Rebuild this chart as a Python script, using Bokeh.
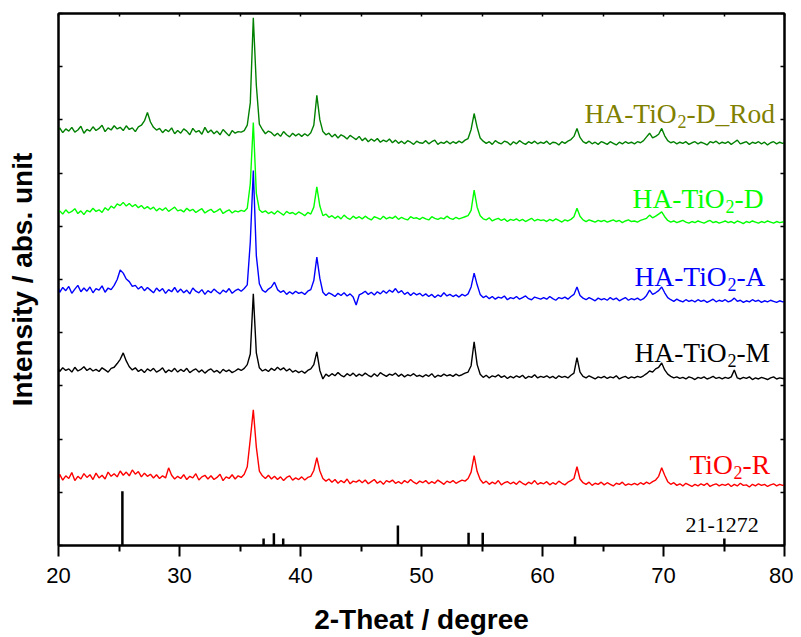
from bokeh.plotting import figure
from bokeh.models import LinearAxis, FixedTicker, Label
from bokeh.embed import file_html
from bokeh.resources import INLINE

# ---------------- data ----------------
# sampling grid of 2-theta (degrees)
XS = [20.0] + [round(20.1 + 0.25 * k, 2) for k in range(240)] + [80.0]

D_ROD = [78.2,
 78.5, 77.6, 78.3, 77.9, 78.6, 77.7, 78.1, 78.8, 77.5, 78.2,
 77.9, 78.7, 78.0, 78.4, 79.0, 77.8, 78.5, 78.1, 78.9, 78.3,
 78.6, 78.0, 78.9, 78.2, 78.5, 77.8, 78.7, 79.0, 79.8, 81.4,
 79.6, 78.6, 78.1, 78.4, 77.6, 78.2, 77.8, 78.5, 77.4, 78.0,
 77.5, 78.3, 77.9, 77.2, 78.4, 77.7, 78.0, 77.3, 78.6, 77.6,
 78.1, 77.4, 77.9, 77.2, 78.2, 77.6, 77.0, 78.0, 77.5, 77.8,
 77.7, 78.0, 79.0, 83.2, 99.2, 86.5, 79.2, 78.2, 77.4, 77.9,
 77.6, 77.0, 77.5, 76.9, 77.8, 77.2, 76.8, 77.5, 77.0, 77.4,
 76.9, 77.4, 77.0, 77.6, 79.0, 84.6, 80.0, 77.8, 77.2, 77.5,
 76.8, 77.3, 76.6, 77.2, 76.9, 76.4, 77.1, 76.7, 76.3, 76.9,
 76.1, 76.6, 75.9, 76.4, 76.0, 76.5, 75.8, 76.2, 75.9, 76.4,
 75.7, 76.2, 75.6, 76.0, 75.5, 76.1, 75.8, 75.4, 76.0, 75.7,
 75.6, 76.1, 75.5, 75.9, 76.2, 75.4, 75.8, 75.6, 76.0, 75.5,
 75.9, 75.6, 76.0, 75.7, 76.2, 76.5, 78.2, 81.2, 78.6, 76.6,
 76.0, 75.6, 75.9, 75.4, 76.1, 75.7, 75.5, 76.0, 75.8, 75.3,
 75.9, 75.5, 76.1, 75.7, 75.4, 75.9, 75.6, 76.0, 75.5, 75.8,
 75.6, 76.0, 75.4, 75.8, 75.7, 75.3, 75.9, 75.6, 76.0, 76.3,
 76.9, 78.4, 76.7, 75.9, 75.6, 76.0, 75.5, 75.8, 75.4, 75.9,
 75.7, 75.4, 75.9, 75.6, 75.3, 75.8, 75.5, 75.9, 75.6, 75.8,
 75.5, 75.9, 75.7, 76.1, 76.8, 77.5, 76.6, 76.9, 77.3, 78.4,
 77.0, 76.1, 75.7, 75.9, 75.5, 75.8, 75.6, 75.9, 75.4, 75.7,
 75.9, 75.5, 75.8, 75.6, 75.3, 75.9, 75.7, 76.0, 75.5, 75.8,
 75.6, 75.9, 75.4, 75.8, 76.2, 75.5, 75.7, 75.9, 75.4, 75.8,
 75.6, 75.9, 75.5, 75.8, 75.3, 75.7, 75.9, 75.5, 75.8, 75.6,
 75.7]

D_LIGHT = [62.6,
 62.9, 62.3, 63.1, 62.5, 62.8, 63.3, 62.4, 62.9, 62.2, 63.0,
 62.7, 63.4, 62.8, 63.1, 62.6, 63.5, 63.0, 63.8, 63.4, 64.2,
 63.9, 64.5, 63.8, 64.3, 63.7, 64.1, 63.5, 63.9, 63.3, 63.7,
 63.2, 63.6, 62.9, 63.4, 63.0, 63.5, 62.8, 63.2, 63.6, 62.9,
 63.1, 62.7, 63.4, 62.9, 63.2, 62.6, 63.0, 63.3, 62.5, 62.9,
 63.2, 62.6, 62.9, 63.3, 62.4, 62.8, 63.1, 62.5, 62.9, 62.7,
 63.0, 62.8, 63.4, 68.0, 79.5, 66.2, 63.1, 62.6, 62.9, 62.4,
 62.7, 62.3, 62.9, 62.5, 62.1, 62.8, 62.4, 62.6, 62.2, 62.7,
 62.4, 62.0, 62.6, 62.3, 63.6, 67.4, 63.8, 62.0, 62.3, 61.7,
 62.0, 61.5, 61.9, 61.4, 62.1, 61.6, 61.3, 61.9, 61.5, 61.8,
 61.4, 61.9, 61.5, 61.2, 61.8, 61.6, 61.3, 61.9, 61.4, 61.7,
 61.5, 61.9, 61.3, 61.7, 61.4, 61.2, 61.8, 61.5, 61.6, 61.3,
 61.7, 61.4, 61.2, 61.8, 61.5, 61.3, 61.6, 61.4, 61.9, 61.5,
 61.3, 61.7, 61.4, 61.6, 61.8, 62.0, 63.0, 66.8, 63.6, 62.0,
 61.4, 61.2, 61.6, 61.0, 61.3, 61.5, 61.1, 61.4, 60.9, 61.3,
 61.1, 61.4, 61.0, 61.3, 60.9, 61.2, 61.5, 61.0, 61.3, 61.1,
 61.2, 60.9, 61.3, 61.0, 61.4, 61.1, 60.8, 61.2, 61.0, 61.3,
 61.8, 63.4, 61.9, 61.2, 60.9, 61.2, 61.0, 60.8, 61.1, 60.9,
 61.1, 60.8, 61.0, 61.2, 60.9, 61.1, 60.7, 61.0, 61.2, 60.9,
 61.0, 60.8, 61.1, 61.3, 61.5, 62.1, 61.6, 61.9, 62.3, 62.7,
 61.8, 61.1, 60.8, 61.0, 60.7, 60.9, 61.1, 60.8, 60.6, 60.9,
 60.7, 61.0, 60.8, 60.6, 60.9, 61.1, 60.7, 60.9, 60.6, 60.8,
 61.0, 60.7, 60.9, 60.6, 61.0, 60.8, 60.5, 60.9, 60.7, 61.0,
 60.8, 60.6, 60.9, 60.7, 61.0, 60.8, 60.6, 60.9, 60.7, 60.8,
 60.8]

A_BLUE = [48.3,
 47.6, 48.5, 47.9, 48.7, 47.4, 48.2, 48.9, 47.7, 48.4, 47.8,
 48.6, 47.5, 48.3, 48.0, 48.8, 47.6, 48.4, 48.1, 48.9, 50.0,
 51.8, 51.2, 50.1, 49.6, 48.7, 48.9, 48.2, 48.7, 47.9, 48.5,
 48.0, 47.5, 48.4, 47.8, 48.3, 47.4, 48.1, 47.7, 48.5, 47.6,
 48.2, 47.5, 48.0, 47.3, 48.4, 47.8, 47.5, 48.1, 47.2, 47.9,
 47.5, 48.2, 47.7, 47.3, 48.0, 47.6, 48.3, 47.4, 47.9, 48.2,
 47.8, 48.3, 49.0, 57.0, 70.5, 54.5, 49.2, 48.0, 47.6, 48.2,
 48.6, 49.5, 48.1, 47.6, 47.9, 47.2, 47.7, 47.3, 47.8, 47.4,
 47.6, 47.2, 47.8, 48.1, 49.8, 54.2, 50.2, 47.6, 47.0, 47.5,
 47.2, 46.8, 47.4, 47.0, 47.5, 46.9, 47.3, 46.7, 45.2, 47.1,
 47.4, 47.8, 47.2, 47.6, 47.1, 47.7, 47.3, 47.9, 47.4, 48.0,
 47.6, 48.3, 47.5, 47.9, 47.2, 47.6, 47.0, 47.5, 47.1, 47.4,
 46.9, 47.3, 46.8, 47.2, 46.6, 47.1, 46.8, 47.5, 46.9, 47.2,
 46.8, 47.1, 46.7, 47.2, 46.9, 47.3, 48.6, 51.2, 49.0, 47.2,
 46.6, 46.9, 46.4, 46.8, 46.3, 46.7, 46.5, 46.9, 46.2, 46.6,
 46.4, 46.8, 46.3, 46.6, 46.9, 46.4, 46.2, 46.7, 46.5, 46.3,
 46.6, 46.3, 46.8, 46.4, 46.1, 46.6, 46.4, 46.7, 46.3, 46.8,
 47.2, 48.6, 47.0, 46.5, 46.2, 46.6, 46.3, 46.0, 46.5, 46.2,
 46.4, 46.1, 46.6, 46.2, 46.5, 46.0, 46.3, 46.6, 46.1, 46.4,
 46.2, 46.5, 46.1, 46.4, 47.0, 48.0, 47.2, 47.5, 47.9, 48.6,
 47.5, 46.6, 46.2, 45.9, 46.3, 46.0, 45.8, 46.2, 45.9, 46.1,
 45.8, 46.2, 45.9, 46.1, 45.7, 46.0, 46.3, 45.8, 46.1, 45.9,
 46.2, 45.8, 46.0, 46.5, 45.9, 46.1, 45.7, 46.0, 45.8, 46.2,
 45.9, 46.1, 45.7, 46.0, 45.8, 46.1, 45.9, 45.7, 46.0, 45.8,
 45.9]

M_BLACK = [33.2,
 32.7, 33.4, 32.9, 33.2, 32.6, 33.5, 32.8, 33.1, 33.6, 32.9,
 33.3, 32.8, 33.1, 32.7, 33.4, 33.0, 32.6, 33.3, 33.5, 34.2,
 35.0, 36.2, 34.7, 33.6, 33.0, 33.4, 32.7, 33.1, 32.5, 33.2,
 32.8, 33.3, 32.6, 32.9, 33.4, 32.5, 33.0, 32.7, 33.3, 32.6,
 33.1, 32.7, 33.3, 32.5, 32.9, 33.2, 32.6, 33.0, 32.4, 32.9,
 33.2, 32.6, 32.9, 32.4, 33.1, 32.7, 33.0, 32.5, 32.8, 33.2,
 32.9, 33.3, 34.0, 36.0, 47.3, 36.2, 33.4, 32.8, 33.1, 32.7,
 33.3, 32.9, 33.5, 33.0, 33.4, 32.8, 33.2, 32.6, 32.9, 32.5,
 32.8, 32.4, 32.9, 33.2, 34.0, 36.4, 32.9, 31.3, 32.2, 31.8,
 32.3, 31.9, 32.5, 32.0, 31.7, 32.3, 31.9, 32.4, 31.8, 32.2,
 31.9, 32.4, 32.0, 31.7, 32.3, 31.8, 32.5, 32.1, 31.8, 32.2,
 32.0, 32.4, 31.8, 32.2, 31.7, 32.1, 31.9, 32.3, 31.8, 32.0,
 31.7, 32.1, 31.8, 32.3, 31.6, 32.0, 31.8, 32.2, 31.9, 32.1,
 31.8, 32.2, 31.9, 32.1, 32.4, 32.6, 33.8, 38.3, 34.0, 32.2,
 31.6, 32.0, 31.5, 31.9, 31.7, 32.1, 31.6, 31.9, 31.4, 31.8,
 31.5, 31.9, 31.6, 32.0, 31.4, 31.8, 31.6, 32.1, 31.5, 31.8,
 31.6, 31.9, 31.5, 31.8, 31.4, 31.9, 31.6, 31.8, 31.5, 32.0,
 32.4, 35.3, 32.6, 31.8, 31.5, 31.9, 31.6, 31.3, 31.7, 31.5,
 31.8, 31.4, 31.7, 31.5, 31.9, 31.3, 31.6, 31.8, 31.4, 31.7,
 31.5, 31.8, 31.6, 31.9, 32.3, 32.8, 32.6, 33.2, 33.5, 34.3,
 33.0, 32.2, 31.8, 31.5, 31.7, 31.4, 31.6, 31.3, 31.7, 31.5,
 31.2, 31.6, 31.4, 31.7, 31.3, 31.5, 31.8, 31.4, 31.6, 31.3,
 31.6, 31.4, 31.7, 33.0, 31.5, 31.3, 31.6, 31.4, 31.7, 31.2,
 31.5, 31.3, 31.6, 31.4, 31.2, 31.5, 31.7, 31.3, 31.5, 31.4,
 31.4]

R_RED = [12.6,
 13.4, 12.3, 13.1, 12.6, 13.7, 12.2, 13.0, 12.5, 13.5, 12.8,
 13.3, 12.4, 13.6, 12.7, 13.2, 12.5, 13.8, 13.0, 13.5, 12.9,
 14.0, 13.2, 13.8, 13.1, 14.2, 13.4, 13.9, 12.9, 13.6, 13.0,
 13.4, 12.7, 13.3, 12.6, 13.1, 12.7, 14.6, 13.2, 12.5, 13.0,
 12.6, 13.3, 12.4, 13.0, 12.7, 13.5, 12.3, 12.9, 13.2, 12.5,
 13.1, 12.4, 12.8, 13.4, 12.2, 12.9, 12.6, 13.3, 12.5, 13.1,
 12.8, 13.4, 14.8, 20.0, 25.5, 18.5, 14.0, 13.1, 12.6, 13.2,
 12.5, 13.0, 12.4, 12.9, 12.2, 12.8, 13.1, 12.3, 12.7, 12.4,
 12.9, 12.3, 12.8, 13.0, 14.1, 16.5, 14.0, 12.6, 12.1, 12.5,
 11.9, 12.4, 11.7, 12.2, 11.8, 12.5, 11.6, 12.1, 11.9, 12.3,
 11.8, 12.3, 11.6, 12.0, 12.4, 11.7, 12.1, 11.5, 12.2, 11.9,
 12.3, 11.7, 12.0, 11.6, 12.2, 11.8, 12.4, 11.9, 11.6, 12.1,
 11.8, 12.2, 11.6, 12.0, 11.7, 12.3, 11.9, 11.5, 12.1, 11.8,
 12.2, 11.7, 12.0, 12.3, 12.1, 12.6, 13.8, 16.9, 13.9, 12.4,
 11.7, 12.1, 11.5, 11.9, 11.6, 12.2, 11.4, 11.8, 12.0, 11.6,
 11.9, 11.5, 12.1, 11.7, 11.4, 11.9, 11.6, 12.2, 11.5, 11.8,
 11.6, 12.0, 11.4, 11.8, 11.5, 12.1, 11.7, 11.4, 11.9, 12.2,
 12.6, 14.8, 12.5, 11.8, 11.5, 11.9, 11.3, 11.7, 11.5, 11.9,
 11.4, 11.8, 11.5, 11.2, 11.7, 11.5, 11.9, 11.3, 11.6, 11.4,
 11.7, 11.4, 11.8, 11.5, 11.9, 11.6, 12.0, 12.3, 13.0, 14.6,
 13.2, 12.0, 11.5, 11.8, 11.3, 11.6, 11.2, 11.7, 11.4, 11.1,
 11.5, 11.2, 11.6, 11.3, 11.7, 11.1, 11.4, 11.6, 11.2, 11.5,
 11.3, 11.6, 11.1, 11.5, 11.2, 11.7, 11.3, 11.4, 11.0, 11.5,
 11.2, 11.6, 11.3, 11.5, 11.1, 11.4, 11.6, 11.2, 11.5, 11.3,
 11.4]

# JCPDS 21-1272 reference lines
REF_POS = [25.28, 36.95, 37.80, 38.57, 48.05, 53.89, 55.06, 62.69, 75.03]
REF_H = [10.2, 1.3, 2.3, 1.3, 3.75, 2.4, 2.4, 1.7, 1.3]

X_TICKS = [20, 30, 40, 50, 60, 70, 80]
X_MINOR = [25, 35, 45, 55, 65, 75]
X_TOP_TICKS = [20, 25, 30, 35, 40, 45, 50, 55, 60, 65, 70, 75, 80]
Y_TICKS = [0, 10, 20, 30, 40, 50, 60, 70, 80, 90, 100]

SERIES = [
    (D_ROD, "#008000"),
    (D_LIGHT, "#00FF00"),
    (A_BLUE, "#0000FF"),
    (M_BLACK, "#000000"),
    (R_RED, "#FF0000"),
]

for ys, _ in SERIES:
    assert len(ys) == len(XS), len(ys)

# ---------------- figure ----------------
p = figure(width=793, height=637, x_range=(20, 80), y_range=(0, 100),
           output_backend="svg", toolbar_location=None,
           min_border_left=58, min_border_right=9, min_border_top=13,
           min_border_bottom=91)
p.xgrid.visible = False
p.ygrid.visible = False
p.outline_line_color = "black"
p.outline_line_width = 2
p.background_fill_color = "white"
p.border_fill_color = "white"

xa = p.xaxis[0]
xa.ticker = FixedTicker(ticks=X_TICKS, minor_ticks=X_MINOR)
xa.axis_line_width = 2
xa.major_tick_line_width = 2
xa.minor_tick_line_width = 2
xa.major_tick_out = 11
xa.major_tick_in = 0
xa.minor_tick_out = 6
xa.minor_tick_in = 0
xa.major_label_text_font = "Liberation Sans"
xa.major_label_text_font_size = "22px"
xa.major_label_text_color = "black"
xa.major_label_standoff = 11
xa.axis_label = "2-Theat / degree"
xa.axis_label_text_font = "Liberation Sans"
xa.axis_label_text_font_size = "28px"
xa.axis_label_text_font_style = "bold"
xa.axis_label_text_color = "black"
xa.axis_label_standoff = 18

ya = p.yaxis[0]
ya.ticker = FixedTicker(ticks=Y_TICKS)
ya.axis_line_width = 2
ya.major_tick_line_width = 1.5
ya.major_tick_in = 4
ya.major_tick_out = 0
ya.minor_tick_out = 0
ya.minor_tick_in = 0
ya.major_label_text_font_size = "1px"
ya.major_label_text_color = None
ya.major_label_standoff = 0
ya.axis_label = "Intensity / abs. unit"
ya.axis_label_text_font = "Liberation Sans"
ya.axis_label_text_font_size = "28px"
ya.axis_label_text_font_style = "bold"
ya.axis_label_text_color = "black"
ya.axis_label_standoff = 21

top = LinearAxis(ticker=FixedTicker(ticks=X_TOP_TICKS), axis_line_width=2,
                 major_tick_in=3, major_tick_out=0, minor_tick_in=0, minor_tick_out=0,
                 major_tick_line_width=1.5, major_label_text_font_size="1px",
                 major_label_text_color=None, major_label_standoff=0)
p.add_layout(top, "above")
right = LinearAxis(ticker=FixedTicker(ticks=Y_TICKS), axis_line_width=2,
                   major_tick_in=4, major_tick_out=0, minor_tick_in=0, minor_tick_out=0,
                   major_tick_line_width=1.5, major_label_text_font_size="1px",
                   major_label_text_color=None, major_label_standoff=0)
p.add_layout(right, "right")

# traces
for ys, col in SERIES:
    p.line(XS, ys, line_color=col, line_width=1.4)

# reference bars
p.segment(x0=REF_POS, y0=[0] * len(REF_POS), x1=REF_POS, y1=REF_H,
          line_color="black", line_width=2.5)

# labels with subscript 2
def add_label(x, y, head, tail, color, off_sub, off_tail):
    kw = dict(text_font="Liberation Serif", text_color=color, text_baseline="alphabetic")
    p.add_layout(Label(x=x, y=y, text=head, text_font_size="27.5px", **kw))
    p.add_layout(Label(x=x, y=y, x_offset=off_sub, y_offset=-8, text="2",
                       text_font_size="18px", **kw))
    p.add_layout(Label(x=x, y=y, x_offset=off_tail, text=tail,
                       text_font_size="27.5px", **kw))

add_label(63.47, 81.24, "HA-TiO", "-D_Rod", "#808000", 93, 102)
add_label(67.44, 65.29, "HA-TiO", "-D", "#00FF00", 93, 102)
add_label(67.60, 50.47, "HA-TiO", "-A", "#0000FF", 93, 102)
add_label(67.60, 36.21, "HA-TiO", "-M", "#000000", 93, 102)
add_label(72.15, 15.20, "TiO", "-R", "#FF0000", 44, 53)
p.add_layout(Label(x=71.82, y=3.94, text="21-1272", text_font="Liberation Serif",
                   text_font_size="22px", text_color="black", text_baseline="alphabetic"))

open("out.html", "w").write(file_html(p, INLINE))
